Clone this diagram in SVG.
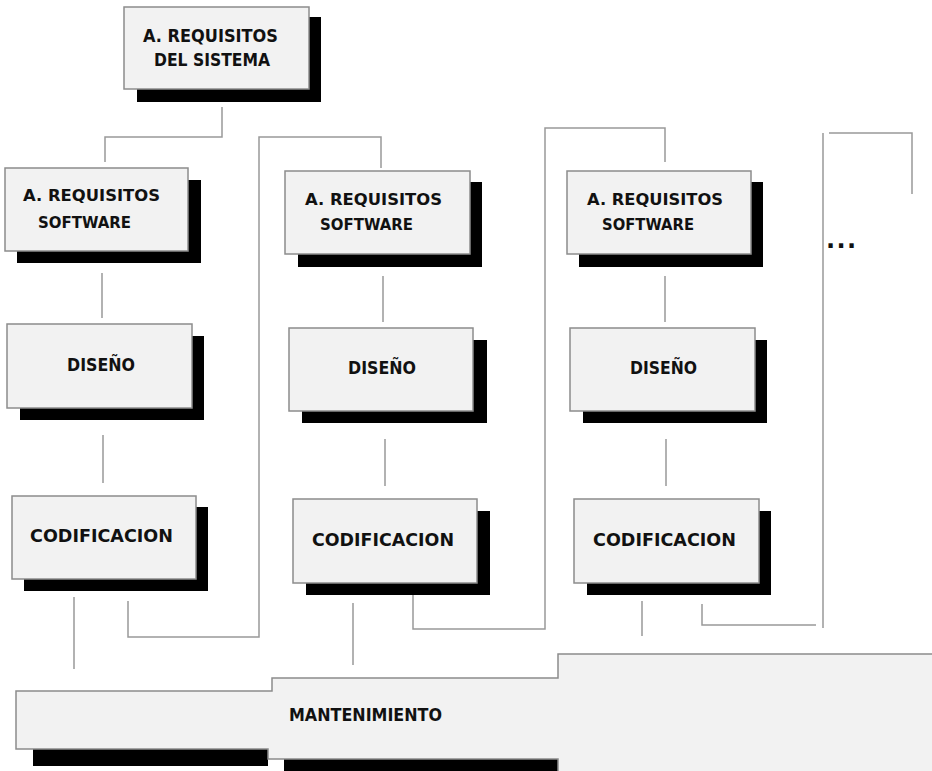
<svg xmlns="http://www.w3.org/2000/svg" width="932" height="771" viewBox="0 0 932 771">
  <style>
    .box { fill: #f2f2f2; stroke: #8c8c8c; stroke-width: 1.5; }
    .shadow { fill: #000; }
    .lbl { font-family: "DejaVu Sans", "Liberation Sans", sans-serif; font-weight: bold; fill: #111; }
    .big { font-size: 17.5px; }
    .mid { font-size: 17px; }
    .sm { font-size: 15.5px; }
    .wire { fill: none; stroke: #999; stroke-width: 1.5; }
  </style>
  <rect width="932" height="771" fill="#fff"/>

  <!-- connectors -->
  <g id="connectors" class="wire">
    <path d="M222,107 V137 H105 V162"/>
    <path d="M128,601 V637 H259 V137 H381 V168"/>
    <path d="M413,595 V629 H545 V128 H665 V162"/>
    <path d="M702,604 V625 H816"/>
    <path d="M823,133 V628"/>
    <path d="M829,133 H912 V194"/>
    <path d="M102,273 V318"/>
    <path d="M103,435 V483"/>
    <path d="M74,597 V669"/>
    <path d="M383,276 V322"/>
    <path d="M385,439 V486"/>
    <path d="M353,603 V665"/>
    <path d="M665,276 V322"/>
    <path d="M666,439 V486"/>
    <path d="M642,601 V636"/>
  </g>

  <!-- system requirements -->
  <g id="req-system">
    <rect class="shadow" x="137" y="17" width="184" height="85"/>
    <rect class="box" x="124" y="7" width="185" height="82"/>
    <text class="lbl big" x="143" y="42" textLength="135" lengthAdjust="spacingAndGlyphs">A.  REQUISITOS</text>
    <text class="lbl big" x="154" y="66" textLength="116" lengthAdjust="spacingAndGlyphs">DEL  SISTEMA</text>
  </g>

  <!-- column 1 -->
  <g id="req-sw-1">
    <rect class="shadow" x="17" y="180" width="184" height="83"/>
    <rect class="box" x="5" y="168" width="183" height="83"/>
    <text class="lbl sm" x="23" y="201" textLength="137" lengthAdjust="spacingAndGlyphs">A.  REQUISITOS</text>
    <text class="lbl sm" x="38" y="228" textLength="93" lengthAdjust="spacingAndGlyphs">SOFTWARE</text>
  </g>
  <g id="design-1">
    <rect class="shadow" x="20" y="336" width="184" height="84"/>
    <rect class="box" x="7" y="324" width="185" height="84"/>
    <text class="lbl mid" x="67" y="371" textLength="68" lengthAdjust="spacingAndGlyphs">DISEÑO</text>
  </g>
  <g id="code-1">
    <rect class="shadow" x="24" y="507" width="184" height="84"/>
    <rect class="box" x="12" y="496" width="184" height="83"/>
    <text class="lbl mid" x="30" y="542" textLength="143" lengthAdjust="spacingAndGlyphs">CODIFICACION</text>
  </g>

  <!-- column 2 -->
  <g id="req-sw-2">
    <rect class="shadow" x="298" y="182" width="184" height="85"/>
    <rect class="box" x="285" y="171" width="185" height="83"/>
    <text class="lbl sm" x="305" y="205" textLength="137" lengthAdjust="spacingAndGlyphs">A.  REQUISITOS</text>
    <text class="lbl sm" x="320" y="230" textLength="93" lengthAdjust="spacingAndGlyphs">SOFTWARE</text>
  </g>
  <g id="design-2">
    <rect class="shadow" x="302" y="340" width="185" height="83"/>
    <rect class="box" x="289" y="328" width="184" height="83"/>
    <text class="lbl mid" x="348" y="374" textLength="68" lengthAdjust="spacingAndGlyphs">DISEÑO</text>
  </g>
  <g id="code-2">
    <rect class="shadow" x="306" y="511" width="184" height="84"/>
    <rect class="box" x="293" y="499" width="184" height="84"/>
    <text class="lbl mid" x="312" y="546" textLength="142" lengthAdjust="spacingAndGlyphs">CODIFICACION</text>
  </g>

  <!-- column 3 -->
  <g id="req-sw-3">
    <rect class="shadow" x="579" y="182" width="184" height="85"/>
    <rect class="box" x="567" y="171" width="184" height="83"/>
    <text class="lbl sm" x="587" y="205" textLength="136" lengthAdjust="spacingAndGlyphs">A.  REQUISITOS</text>
    <text class="lbl sm" x="602" y="230" textLength="92" lengthAdjust="spacingAndGlyphs">SOFTWARE</text>
  </g>
  <g id="design-3">
    <rect class="shadow" x="583" y="340" width="184" height="83"/>
    <rect class="box" x="570" y="328" width="185" height="83"/>
    <text class="lbl mid" x="630" y="374" textLength="67" lengthAdjust="spacingAndGlyphs">DISEÑO</text>
  </g>
  <g id="code-3">
    <rect class="shadow" x="587" y="511" width="184" height="84"/>
    <rect class="box" x="574" y="499" width="185" height="84"/>
    <text class="lbl mid" x="593" y="546" textLength="143" lengthAdjust="spacingAndGlyphs">CODIFICACION</text>
  </g>

  <!-- further iterations -->
  <g id="more">
    <text class="lbl" x="826" y="248" font-size="24" textLength="30" lengthAdjust="spacing">...</text>
  </g>

  <!-- maintenance band -->
  <g id="maintenance">
    <rect class="shadow" x="33" y="749" width="235" height="17"/>
    <rect class="shadow" x="284" y="759" width="274" height="20"/>
    <path class="box" d="M16,691 H272 V678 H558 V654 H940 V790 H558 V759 H268 V749 H16 Z"/>
    <text class="lbl" x="289" y="721" font-size="18px" textLength="153" lengthAdjust="spacingAndGlyphs">MANTENIMIENTO</text>
  </g>
</svg>
